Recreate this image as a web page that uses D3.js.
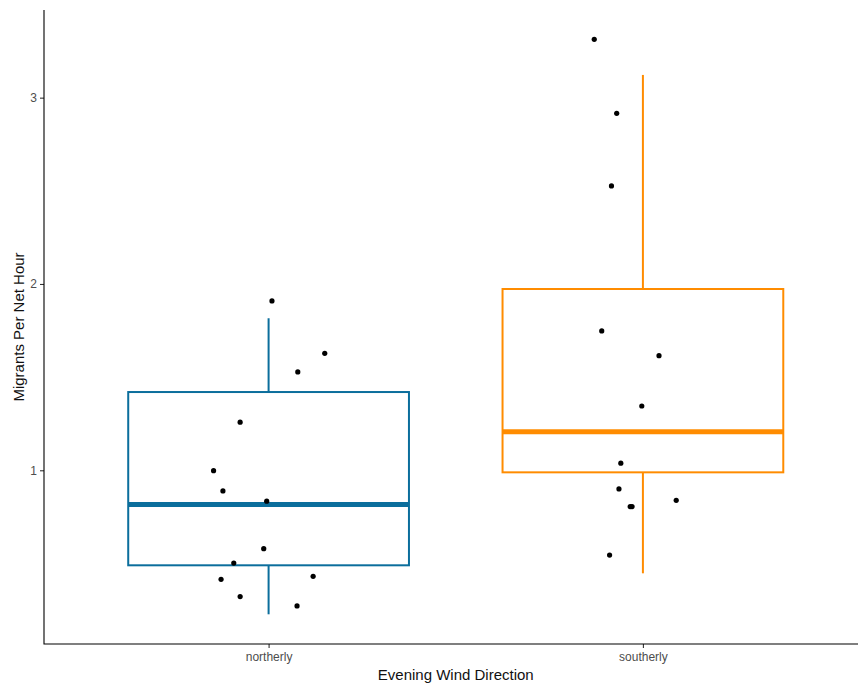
<!DOCTYPE html>
<html>
<head>
<meta charset="utf-8">
<script src="https://cdn.jsdelivr.net/npm/d3@7"></script>
<style>
  html, body { margin: 0; padding: 0; background: #fff; }
  svg { display: block; font-family: "Liberation Sans", Arial, sans-serif; }
</style>
</head>
<body>
<svg id="chart" width="858" height="686"></svg>
<script>
// Wind direction groups
const categories = ["northerly", "southerly"];
const boxColors = ["#0B6E9C", "#FF8C00"];

// Box summary per group: lower whisker, Q1, median, Q3, upper whisker
const whiskerLow  = [0.227, 0.447];
const quartile1   = [0.490, 0.989];
const medians     = [0.817, 1.207];
const quartile3   = [1.420, 1.973];
const whiskerHigh = [1.816, 3.122];

// Observed nights (migrants per net hour) with their horizontal jitter
const northerlyValues = [1.909, 1.628, 1.528, 1.258, 0.998, 0.889, 0.834, 0.579, 0.502, 0.431, 0.415, 0.322, 0.272];
const northerlyJitter = [0.009, 0.150, 0.078, -0.076, -0.147, -0.122, -0.005, -0.013, -0.093, 0.119, -0.127, -0.076, 0.076];
const southerlyValues = [3.313, 2.916, 2.526, 1.748, 1.615, 1.345, 1.038, 0.900, 0.805, 0.805, 0.839, 0.545];
const southerlyJitter = [-0.130, -0.070, -0.084, -0.110, 0.043, -0.003, -0.059, -0.064, -0.034, -0.029, 0.089, -0.089];

const yTicks = [1, 2, 3];
const xTitle = "Evening Wind Direction";
const yTitle = "Migrants Per Net Hour";

const svg = d3.select("#chart");
const plotLeft = 44, plotRight = 867.5, plotTop = 10, plotBottom = 644;

// Discrete positions 1..n with 0.6 padding on each side
const x = d3.scaleLinear().domain([0.4, categories.length + 0.6]).range([plotLeft, plotRight]);
const y = d3.scaleLinear().domain([0.0676, 3.4705]).range([plotBottom, plotTop]);
const boxWidth = 0.75;

const points = [
  ...northerlyValues.map((v, i) => ({ g: 0, v, j: northerlyJitter[i] })),
  ...southerlyValues.map((v, i) => ({ g: 1, v, j: southerlyJitter[i] }))
];

// Boxes
const boxes = svg.append("g").selectAll("g").data(categories).join("g");
boxes.each(function (c, i) {
  const g = d3.select(this);
  const cx = x(i + 1);
  const x0 = x(i + 1 - boxWidth / 2), x1 = x(i + 1 + boxWidth / 2);
  const col = boxColors[i];
  g.append("line").attr("x1", cx).attr("x2", cx)
    .attr("y1", y(quartile3[i])).attr("y2", y(whiskerHigh[i]))
    .attr("stroke", col).attr("stroke-width", 2);
  g.append("line").attr("x1", cx).attr("x2", cx)
    .attr("y1", y(quartile1[i])).attr("y2", y(whiskerLow[i]))
    .attr("stroke", col).attr("stroke-width", 2);
  g.append("rect").attr("x", x0).attr("y", y(quartile3[i]))
    .attr("width", x1 - x0).attr("height", y(quartile1[i]) - y(quartile3[i]))
    .attr("fill", "#fff").attr("stroke", col).attr("stroke-width", 2);
  g.append("line").attr("x1", x0).attr("x2", x1)
    .attr("y1", y(medians[i])).attr("y2", y(medians[i]))
    .attr("stroke", col).attr("stroke-width", 5);
});

// Jittered points
svg.append("g").selectAll("circle").data(points).join("circle")
  .attr("cx", d => x(d.g + 1 + d.j))
  .attr("cy", d => y(d.v))
  .attr("r", 2.6)
  .attr("fill", "#000");

// Axes (ticks and labels from d3, axis lines drawn separately)
const yAxis = svg.append("g").attr("transform", `translate(${plotLeft},0)`)
  .call(d3.axisLeft(y).tickValues(yTicks).tickFormat(d3.format("d")).tickSizeOuter(0).tickSize(4).tickPadding(3));
const xAxis = svg.append("g").attr("transform", `translate(0,${plotBottom})`)
  .call(d3.axisBottom(x).tickValues(categories.map((c, i) => i + 1))
    .tickFormat((d, i) => categories[i]).tickSizeOuter(0).tickSize(4).tickPadding(4));

[xAxis, yAxis].forEach(ax => {
  ax.select(".domain").remove();
  ax.selectAll(".tick line").attr("stroke", "#333").attr("stroke-width", 1.1);
  ax.selectAll(".tick text").attr("fill", "#4D4D4D").attr("font-size", 12)
    .attr("font-family", "Liberation Sans, Arial, sans-serif");
});

svg.append("path")
  .attr("d", `M${plotLeft},${plotTop}V${plotBottom}H${plotRight}`)
  .attr("fill", "none").attr("stroke", "#000").attr("stroke-width", 1.1);

// Axis titles
svg.append("text").attr("x", (plotLeft + plotRight) / 2).attr("y", 680)
  .attr("text-anchor", "middle").attr("font-size", 15).attr("fill", "#111")
  .text(xTitle);
svg.append("text").attr("transform", `translate(24,${(plotTop + plotBottom) / 2}) rotate(-90)`)
  .attr("text-anchor", "middle").attr("font-size", 15).attr("fill", "#111")
  .text(yTitle);
</script>
</body>
</html>
